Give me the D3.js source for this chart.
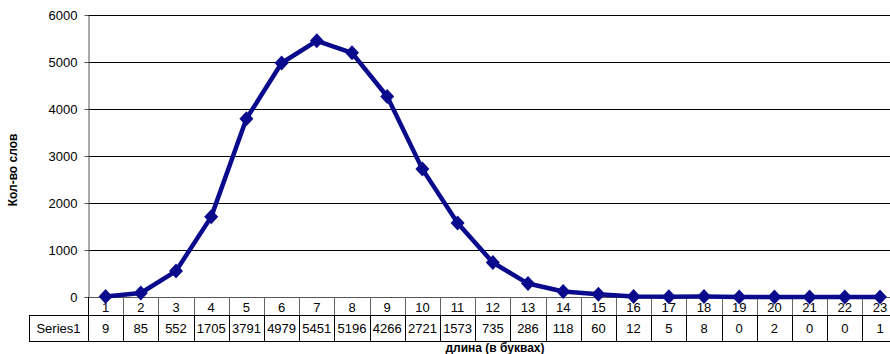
<!DOCTYPE html>
<html>
<head>
<meta charset="utf-8">
<script src="https://cdn.jsdelivr.net/npm/d3@7"></script>
<style>
  html, body { margin: 0; padding: 0; background: #fff; }
  svg { display: block; font-family: "Liberation Sans", Arial, sans-serif; }
</style>
</head>
<body>
<svg id="chart" width="890" height="354"></svg>
<script>
// Word length (letters) and number of words of that length
const categories = ["1","2","3","4","5","6","7","8","9","10","11","12","13","14","15","16","17","18","19","20","21","22","23"];
const seriesName = "Series1";
const values = [9, 85, 552, 1705, 3791, 4979, 5451, 5196, 4266, 2721, 1573, 735, 286, 118, 60, 12, 5, 8, 0, 2, 0, 0, 1];
const yTicks = [0, 1000, 2000, 3000, 4000, 5000, 6000];
const xTitle = "длина (в буквах)";
const yTitle = "Кол-во слов";

const svg = d3.select("#chart");
const plotLeft = 88, plotTop = 15, plotBottom = 297, colW = 35.2;
const tableLeft = 29, headerBottom = 315, tableBottom = 341;
const fontSize = 13;

const x = d3.scaleBand().domain(categories).range([plotLeft, plotLeft + colW * categories.length]).padding(0);
const y = d3.scaleLinear().domain([0, 6000]).range([plotBottom, plotTop]);

// horizontal gridlines
svg.append("g")
  .selectAll("line")
  .data(yTicks.filter(d => d > 0))
  .join("line")
  .attr("x1", plotLeft).attr("x2", 890)
  .attr("y1", d => Math.round(y(d)) + 0.5).attr("y2", d => Math.round(y(d)) + 0.5)
  .attr("stroke", "#000").attr("stroke-width", 1);

// y axis
const yAxis = svg.append("g")
  .attr("transform", `translate(${plotLeft + 0.5},0)`)
  .call(d3.axisLeft(y).tickValues(yTicks).tickFormat(d3.format("d"))
    .tickSize(4).tickPadding(7).tickSizeOuter(0));
yAxis.select(".domain").attr("stroke", "#555");
yAxis.selectAll(".tick line").attr("stroke", "#555");
yAxis.selectAll(".tick text").attr("font-size", fontSize).attr("fill", "#000")
  .attr("font-family", "Liberation Sans, Arial, sans-serif");

// baseline (value 0) line across the plot
svg.append("line")
  .attr("x1", plotLeft).attr("x2", 890)
  .attr("y1", Math.round(y(0)) + 0.5).attr("y2", Math.round(y(0)) + 0.5)
  .attr("stroke", "#555");

// data table: header row with category labels
const tbl = svg.append("g");
tbl.selectAll("line.hdr")
  .data(categories)
  .join("line")
  .attr("class", "hdr")
  .attr("x1", d => Math.round(x(d) + x.bandwidth()) + 0.5)
  .attr("x2", d => Math.round(x(d) + x.bandwidth()) + 0.5)
  .attr("y1", plotBottom).attr("y2", headerBottom)
  .attr("stroke", "#666");
tbl.selectAll("text.cat")
  .data(categories)
  .join("text")
  .attr("class", "cat")
  .attr("x", d => x(d) + x.bandwidth() / 2)
  .attr("y", 312)
  .attr("text-anchor", "middle")
  .attr("font-size", fontSize)
  .text(d => d);

// series row
tbl.append("line").attr("x1", tableLeft).attr("x2", 890)
  .attr("y1", headerBottom + 0.5).attr("y2", headerBottom + 0.5).attr("stroke", "#000");
tbl.append("line").attr("x1", tableLeft).attr("x2", 890)
  .attr("y1", tableBottom + 0.5).attr("y2", tableBottom + 0.5).attr("stroke", "#000");
tbl.append("line").attr("x1", tableLeft + 0.5).attr("x2", tableLeft + 0.5)
  .attr("y1", headerBottom).attr("y2", tableBottom).attr("stroke", "#000");
tbl.append("line").attr("x1", plotLeft + 0.5).attr("x2", plotLeft + 0.5)
  .attr("y1", plotBottom).attr("y2", tableBottom).attr("stroke", "#000");
tbl.selectAll("line.val")
  .data(categories)
  .join("line")
  .attr("class", "val")
  .attr("x1", d => Math.round(x(d) + x.bandwidth()) + 0.5)
  .attr("x2", d => Math.round(x(d) + x.bandwidth()) + 0.5)
  .attr("y1", headerBottom).attr("y2", tableBottom)
  .attr("stroke", "#000");
tbl.append("text")
  .attr("x", (tableLeft + plotLeft) / 2).attr("y", 333)
  .attr("text-anchor", "middle").attr("font-size", fontSize)
  .text(seriesName);
tbl.selectAll("text.v")
  .data(values)
  .join("text")
  .attr("class", "v")
  .attr("x", (d, i) => x(categories[i]) + x.bandwidth() / 2)
  .attr("y", 333)
  .attr("text-anchor", "middle")
  .attr("font-size", fontSize)
  .text(d => d);

// series line and diamond markers
const color = "#0a0a8c";
const pts = values.map((v, i) => [x(categories[i]) + x.bandwidth() / 2, y(v)]);
svg.append("path")
  .attr("d", d3.line()(pts))
  .attr("fill", "none")
  .attr("stroke", color)
  .attr("stroke-width", 4.5)
  .attr("stroke-linejoin", "round");
svg.append("g")
  .selectAll("path")
  .data(pts)
  .join("path")
  .attr("transform", d => `translate(${d[0]},${d[1]})`)
  .attr("d", "M0,-7.5L7,0L0,7.5L-7,0Z")
  .attr("fill", color);

// axis titles
svg.append("text")
  .attr("x", 495).attr("y", 352)
  .attr("text-anchor", "middle")
  .attr("font-size", 12).attr("font-weight", "bold")
  .text(xTitle);
svg.append("text")
  .attr("transform", "translate(17,170) rotate(-90)")
  .attr("text-anchor", "middle")
  .attr("font-size", 12).attr("font-weight", "bold")
  .text(yTitle);
</script>
</body>
</html>
